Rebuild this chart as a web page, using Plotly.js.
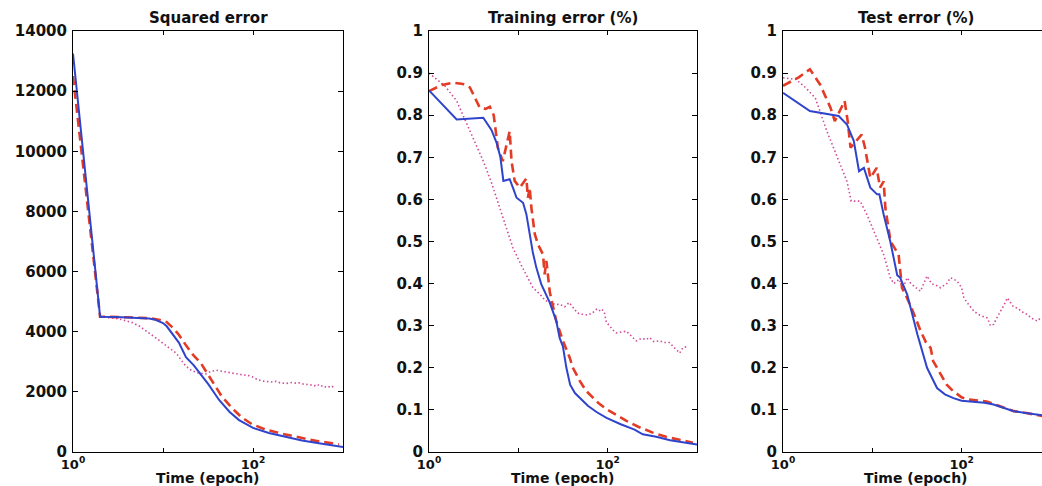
<!DOCTYPE html>
<html>
<head>
<meta charset="utf-8">
<script src="https://cdn.plot.ly/plotly-3.0.1.min.js"></script>
<style>html,body{margin:0;padding:0;background:#fff}#chart{width:1042px;height:486px}</style>
</head>
<body>
<div id="chart"></div>
<script>
// ---------- Panel 1: Squared error ----------
const sqBlueT = [1,2,3,4,5,6,7,8,9,10,11,13,15,18,22,26,32,42,55,70,100,150,230,350,540,750,1000];
const sqBlueV = [13250,4500,4490,4480,4470,4460,4440,4410,4360,4290,4180,3900,3640,3150,2880,2600,2250,1730,1330,1060,800,630,500,380,290,230,170];
const sqRedT = [1,2,4,7,9,11,13,15,18,22,26,35,45,59,75,98,140,200,326,500,760,900];
const sqRedV = [12500,4500,4480,4450,4400,4320,4120,3900,3550,3200,2980,2350,1850,1450,1150,920,740,620,480,370,290,250];
const sqMagT = [2,2.5,3,3.5,4,4.6,5.5,6.6,8,9.2,11,14,16,18,21,25,30,34,39,45,52,59,68,80,90,98,110,125,140,160,180,200,234,270,300,326,360,400,440,480,520,560,600,650,700,740,780,800];
const sqMagV = [4500,4480,4440,4400,4360,4300,4180,4020,3850,3700,3520,3290,3050,2850,2700,2620,2600,2680,2720,2680,2640,2620,2590,2560,2540,2500,2420,2360,2340,2330,2350,2300,2280,2310,2290,2300,2260,2250,2230,2200,2250,2180,2210,2150,2170,2140,2200,2220];

// ---------- Panel 2: Training error ----------
const trBlueT = [1,2.04,4.05,5,5.7,6.3,6.8,8,8.8,9.55,11.3,12.3,13.4,14.5,15.9,18.1,22.5,26.6,29,31.6,34.5,38,43,48.7,60,75,97,140,200,247,350,500,700,1000];
const trBlueV = [0.859,0.790,0.794,0.765,0.735,0.70,0.644,0.648,0.625,0.604,0.592,0.565,0.518,0.475,0.438,0.398,0.355,0.311,0.271,0.25,0.20,0.16,0.14,0.129,0.11,0.095,0.081,0.066,0.053,0.042,0.036,0.028,0.023,0.018];
const trRedT = [1,1.4,1.87,2.4,2.87,3.3,3.7,4.3,4.8,5.3,5.9,6.7,8,8.4,9.1,10.4,12.3,12.8,13.4,14,15.3,16.6,18.9,19.7,20.6,22.5,26.6,31.6,37.6,40.8,48.7,57.6,68,80,97,125,162,220,320,450,650,900];
const trRedV = [0.857,0.872,0.877,0.874,0.866,0.84,0.818,0.815,0.82,0.80,0.723,0.691,0.762,0.69,0.644,0.628,0.65,0.604,0.628,0.58,0.517,0.493,0.469,0.422,0.454,0.38,0.311,0.264,0.224,0.20,0.169,0.145,0.129,0.115,0.102,0.088,0.074,0.06,0.046,0.036,0.028,0.022];
const trMagT = [1,1.5,2.04,2.87,4.05,5,6.2,7.5,8.7,11,14.6,17.4,20,23,26,29,33,37,41,46,52,60,68,75,80,86,92,97,105,114,125,140,162,185,209,240,270,295,330,380,430,490,540,580,640,695,760];
const trMagV = [0.90,0.87,0.834,0.762,0.691,0.64,0.58,0.53,0.485,0.44,0.39,0.375,0.36,0.355,0.35,0.351,0.345,0.355,0.343,0.33,0.327,0.325,0.331,0.339,0.335,0.34,0.33,0.307,0.30,0.29,0.283,0.285,0.287,0.275,0.264,0.27,0.267,0.272,0.262,0.264,0.26,0.26,0.25,0.244,0.235,0.248,0.25];

// ---------- Panel 3: Test error ----------
const teBlueT = [1,2,4.2,5.2,6.2,7.1,8.05,9.5,11.3,12,13.4,15.9,19,20.5,24.6,32,41,53,65,81,100,135,180,228,300,384,500,650,813];
const teBlueV = [0.853,0.81,0.798,0.778,0.739,0.667,0.675,0.628,0.612,0.612,0.564,0.50,0.42,0.414,0.374,0.279,0.20,0.152,0.137,0.128,0.122,0.12,0.117,0.113,0.105,0.097,0.093,0.089,0.087];
const teRedT = [1,1.5,2,2.6,3.4,3.8,4.9,5.3,5.7,7.6,8.3,9.5,11.2,12.2,13.4,14,16,19.7,21.5,24,28.5,34.8,40,45,48,58,68,81,100,114,150,190,260,384,550,813];
const teRedV = [0.87,0.89,0.909,0.873,0.818,0.786,0.834,0.786,0.723,0.754,0.722,0.651,0.675,0.628,0.643,0.58,0.50,0.469,0.39,0.37,0.334,0.287,0.26,0.247,0.216,0.184,0.16,0.144,0.13,0.125,0.122,0.12,0.11,0.097,0.092,0.085];
const teMagT = [1,1.4,1.8,2.3,3.1,3.96,5.2,5.8,7.3,8.7,11.3,13.4,15.9,17.4,20,22,24.6,27,31,34.6,41,46,53,58,68,75,82,89,100,106,120,138,160,195,210,228,250,275,300,325,350,380,420,460,500,545,600,650,700,760,813];
const teMagV = [0.889,0.885,0.865,0.841,0.762,0.707,0.643,0.596,0.596,0.564,0.509,0.469,0.414,0.40,0.41,0.39,0.414,0.40,0.39,0.382,0.418,0.40,0.395,0.39,0.40,0.414,0.41,0.406,0.39,0.366,0.35,0.334,0.325,0.318,0.30,0.303,0.32,0.334,0.35,0.366,0.355,0.345,0.342,0.335,0.33,0.327,0.318,0.315,0.311,0.318,0.32];

const titles = ['Squared error', 'Training error (%)', 'Test error (%)'];
const xTickVals = [1, 10, 100, 1000];
const xTickText = ['10<sup>0</sup>', '', '10<sup>2</sup>', ''];
const xTitle = 'Time (epoch)';

const BLUE = '#2f44cc', RED = '#e23c26', MAG = '#d24a98';
const F = {family: 'DejaVu Sans, Arial, sans-serif', size: 15, color: '#111', weight: 'bold'};
const FX = {family: 'DejaVu Sans, Arial, sans-serif', size: 13, color: '#111', weight: 'bold'};
const FT = {family: 'DejaVu Sans, Arial, sans-serif', size: 14, color: '#111', weight: 'bold'};

function tr(x, y, n, kind) {
  const s = {x: x, y: y, xaxis: 'x' + (n === 1 ? '' : n), yaxis: 'y' + (n === 1 ? '' : n), mode: 'lines', hoverinfo: 'skip', showlegend: false};
  if (kind === 'b') s.line = {color: BLUE, width: 2};
  if (kind === 'r') s.line = {color: RED, width: 2.6, dash: '9px,5px'};
  if (kind === 'm') s.line = {color: MAG, width: 1.6, dash: '1.5px,2.5px'};
  return s;
}
const data = [
  tr(sqMagT, sqMagV, 1, 'm'), tr(sqRedT, sqRedV, 1, 'r'), tr(sqBlueT, sqBlueV, 1, 'b'),
  tr(trMagT, trMagV, 2, 'm'), tr(trRedT, trRedV, 2, 'r'), tr(trBlueT, trBlueV, 2, 'b'),
  tr(teMagT, teMagV, 3, 'm'), tr(teRedT, teRedV, 3, 'r'), tr(teBlueT, teBlueV, 3, 'b')
];

const W = 1042;
const doms = [[73/W, 343/W], [429/W, 697/W], [783/W, 1]];
const xr = [[0, 3], [0, 3], [0, 2.9]];
function xa(i) {
  return {type: 'log', domain: doms[i], range: xr[i], tickvals: xTickVals, ticktext: xTickText,
    ticks: 'inside', ticklen: 4, tickcolor: '#000', showline: true, linecolor: '#000', linewidth: 1,
    mirror: 'ticks', showgrid: false, zeroline: false, tickfont: FX, anchor: 'y' + (i ? i + 1 : ''),
    automargin: false};
}
function ya(i, rng, dt) {
  return {domain: [0, 1], range: rng, dtick: dt, tick0: 0, tickformat: i === 0 ? 'd' : '', ticks: 'inside', ticklen: 5, tickcolor: '#000',
    showline: true, linecolor: '#000', linewidth: 1, mirror: i === 2 ? false : 'ticks', showgrid: false,
    zeroline: false, tickfont: F, anchor: 'x' + (i ? i + 1 : ''), automargin: false, ticklabelstandoff: 2};
}
const centers = [(doms[0][0] + doms[0][1]) / 2, (doms[1][0] + doms[1][1]) / 2, (783/W + 1050/W) / 2];
const annTitles = titles.map((t, i) => ({text: t, xref: 'paper', yref: 'paper',
    x: centers[i], y: 1, xanchor: 'center', yanchor: 'bottom',
    yshift: 2, showarrow: false, font: F}));
const annX = centers.map(c => ({text: xTitle, xref: 'paper', yref: 'paper', x: c, y: 0,
    xanchor: 'center', yanchor: 'top', yshift: -16, showarrow: false, font: FT}));
const layout = {
  width: 1042, height: 486, paper_bgcolor: '#fff', plot_bgcolor: '#fff',
  margin: {l: 0, r: 0, t: 31, b: 34},
  xaxis: xa(0), xaxis2: xa(1), xaxis3: xa(2),
  yaxis: ya(0, [0, 14000], 2000), yaxis2: ya(1, [0, 1], 0.1), yaxis3: ya(2, [0, 1], 0.1),
  annotations: annTitles.concat(annX)
};
Plotly.newPlot('chart', data, layout, {staticPlot: true, displayModeBar: false});
</script>
</body>
</html>
